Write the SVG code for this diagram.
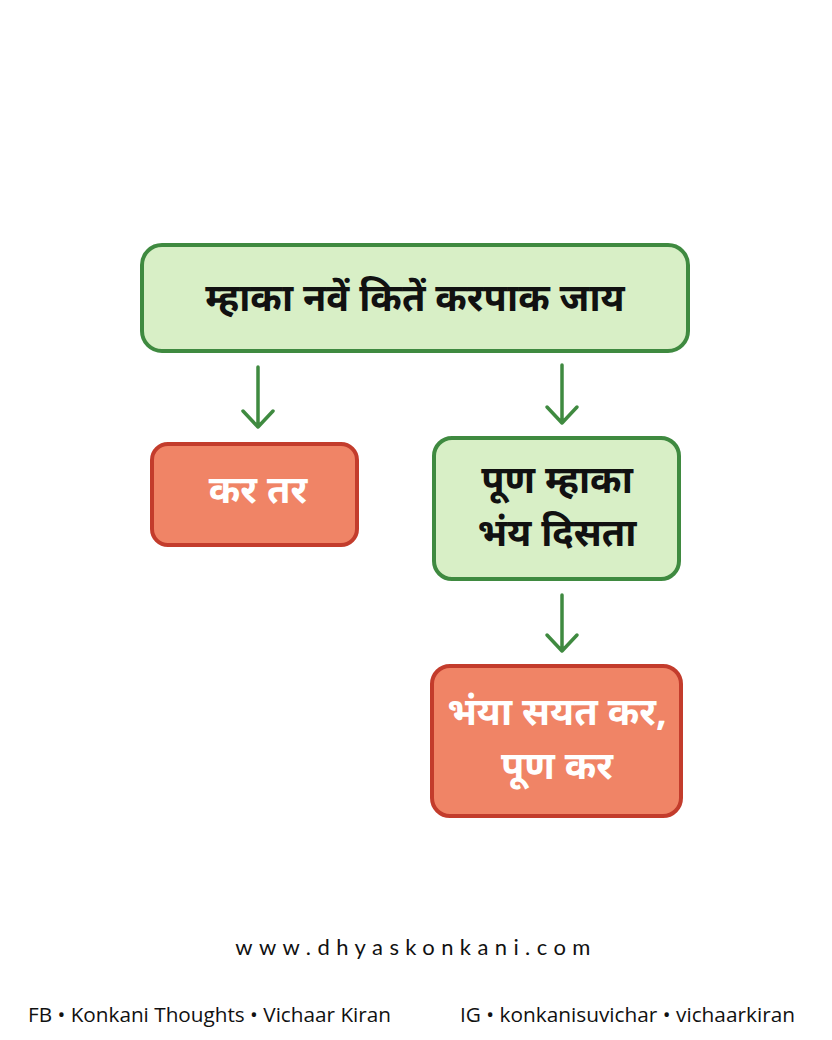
<svg xmlns="http://www.w3.org/2000/svg" width="832" height="1040" viewBox="0 0 832 1040">
<defs>
<style>
.g{fill:#d8efc6;stroke:#3f8a40;stroke-width:4}
.r{fill:#f08466;stroke:#c33c2c;stroke-width:4}
.t{font-family:"Noto Sans","Noto Sans Devanagari","Lohit Devanagari",sans-serif;font-weight:bold;font-size:38px;text-anchor:middle}
.dk{fill:#111}
.wh{fill:#ffffff}
.arr{stroke:#3f8a40;stroke-width:3.5;fill:none;stroke-linecap:round;stroke-linejoin:round}
.f{font-family:"Open Sans","Noto Sans",sans-serif;font-size:20px;fill:#111}
</style>
</defs>
<rect width="832" height="1040" fill="#ffffff"/>
<g id="connectors">
<path class="arr" d="M258 367 L258 427 M243 411 L258 427 L273 411"/>
<path class="arr" d="M562 365 L562 423 M547 407 L562 423 L577 407"/>
<path class="arr" d="M562 595 L562 651 M547 635 L562 651 L577 635"/>
</g>
<g id="n1">
<rect class="g" x="142" y="245" width="546" height="106" rx="20"/>
<text class="t dk" x="415" y="311">म्हाका नवें कितें करपाक जाय</text>
</g>
<g id="n2">
<rect class="r" x="152" y="444" width="205" height="101" rx="16"/>
<text class="t wh" x="258" y="503">कर तर</text>
</g>
<g id="n3">
<rect class="g" x="434" y="438" width="245" height="141" rx="18"/>
<text class="t dk" x="557" y="493">पूण म्हाका</text>
<text class="t dk" x="557" y="546">भंय दिसता</text>
</g>
<g id="n4">
<rect class="r" x="432" y="666" width="249" height="150" rx="18"/>
<text class="t wh" x="557" y="725">भंया सयत कर,</text>
<text class="t wh" x="557" y="779">पूण कर</text>
</g>
<text x="416" y="955" text-anchor="middle" style="font-family:Lato,'DejaVu Sans',sans-serif;font-size:22px;letter-spacing:6.4px;fill:#111">www.dhyaskonkani.com</text>
<text class="f" x="28" y="1022" textLength="363" lengthAdjust="spacingAndGlyphs">FB • Konkani Thoughts • Vichaar Kiran</text>
<text class="f" x="460" y="1022" textLength="335" lengthAdjust="spacingAndGlyphs">IG • konkanisuvichar • vichaarkiran</text>
</svg>
